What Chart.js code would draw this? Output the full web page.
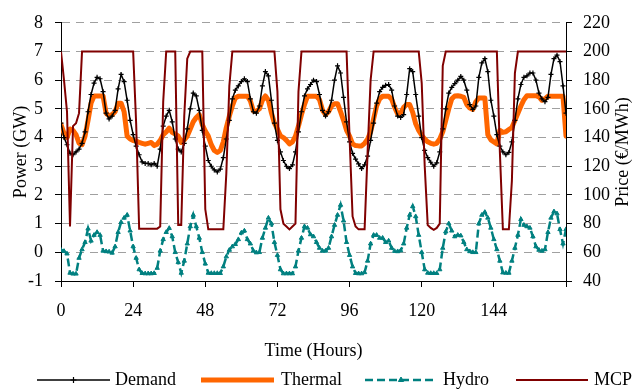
<!DOCTYPE html>
<html lang="en">
<head>
<meta charset="utf-8">
<title>Power and price</title>
<script src="https://cdn.jsdelivr.net/npm/chart.js@4.4.1/dist/chart.umd.min.js"></script>
<style>
  html, body { margin: 0; padding: 0; background: #fff; }
  #grafico { display: block; }
</style>
</head>
<body>
<canvas id="grafico" width="639" height="389"></canvas>
<script>
/**
 * Datos (una hora por punto)
 */
const horas = [
  0, 1, 2, 3, 4, 5, 6, 7, 8, 9, 10, 11, 12, 13, 14, 15, 16, 17, 18, 19, 20, 21, 22, 23,
  24, 25, 26, 27, 28, 29, 30, 31, 32, 33, 34, 35, 36, 37, 38, 39, 40, 41, 42, 43, 44, 45, 46, 47,
  48, 49, 50, 51, 52, 53, 54, 55, 56, 57, 58, 59, 60, 61, 62, 63, 64, 65, 66, 67, 68, 69, 70, 71,
  72, 73, 74, 75, 76, 77, 78, 79, 80, 81, 82, 83, 84, 85, 86, 87, 88, 89, 90, 91, 92, 93, 94, 95,
  96, 97, 98, 99, 100, 101, 102, 103, 104, 105, 106, 107, 108, 109, 110, 111, 112, 113, 114, 115, 116, 117, 118, 119,
  120, 121, 122, 123, 124, 125, 126, 127, 128, 129, 130, 131, 132, 133, 134, 135, 136, 137, 138, 139, 140, 141, 142, 143,
  144, 145, 146, 147, 148, 149, 150, 151, 152, 153, 154, 155, 156, 157, 158, 159, 160, 161, 162, 163, 164, 165, 166, 167, 168
];

// Demanda (GW)
const demanda = [
  4.5, 4.0, 3.75, 3.45, 3.4, 3.5, 3.6, 3.8, 4.2, 4.9, 5.5, 5.9, 6.1, 6.05, 5.6, 4.85, 4.65, 4.75, 4.95, 5.7, 6.2, 5.95, 5.3, 4.6,
  4.1, 3.7, 3.4, 3.15, 3.1, 3.1, 3.05, 3.1, 3.0, 3.6, 4.4, 4.75, 4.95, 4.55, 3.95, 3.6, 3.5, 3.8, 4.3, 5.0, 5.55, 5.45, 4.95, 4.25,
  3.7, 3.2, 3.0, 2.87, 2.8, 2.9, 3.3, 3.95, 4.6, 5.35, 5.65, 5.8, 5.95, 6.05, 5.95, 5.35, 4.9, 4.85, 5.1, 5.8, 6.3, 6.15, 5.3, 4.5,
  3.9, 3.5, 3.2, 3.0, 2.92, 3.05, 3.5, 4.2, 4.9, 5.45, 5.7, 5.85, 6.0, 5.95, 5.5, 4.95, 4.75, 4.9, 5.3, 6.0, 6.5, 6.25, 5.4, 4.55,
  3.85, 3.45, 3.25, 3.08, 2.92, 3.05, 3.35, 3.9, 4.5, 5.2, 5.6, 5.75, 5.82, 5.85, 5.65, 5.1, 4.75, 4.7, 4.8, 5.5, 6.4, 6.3, 5.5, 4.75,
  4.0, 3.55, 3.3, 3.14, 3.0, 3.12, 3.5, 4.3, 5.0, 5.55, 5.75, 5.88, 6.0, 6.13, 6.0, 5.65, 5.15, 4.98, 5.1, 6.1, 6.6, 6.75, 6.3, 5.3,
  4.75, 4.1, 3.7, 3.5, 3.4, 3.48, 3.85, 4.6, 5.35, 5.85, 6.1, 6.15, 6.25, 6.25, 6.0, 5.55, 5.35, 5.25, 5.4, 6.2, 6.75, 6.87, 6.65, 5.8, 4.85
];

// Generacion termica (GW)
const termica = [
  4.45, 4.15, 4.0, 4.3, 4.25, 4.1, 3.8, 3.75, 4.05, 4.6, 5.2, 5.45, 5.45, 5.45, 5.45, 4.85, 4.75, 4.8, 4.9, 5.2, 5.2, 4.9, 4.05, 3.95,
  3.9, 3.88, 3.83, 3.8, 3.77, 3.8, 3.83, 3.72, 3.77, 3.9, 4.1, 4.2, 4.33, 4.18, 4.12, 4.05, 3.83, 3.92, 4.05, 4.3, 4.55, 4.7, 4.8, 4.45,
  4.23, 4.05, 3.75, 3.55, 3.48, 3.55, 3.85, 4.35, 4.75, 5.1, 5.38, 5.44, 5.44, 5.44, 5.44, 5.28, 4.92, 4.92, 5.0, 5.3, 5.45, 5.3, 4.86, 4.5,
  4.29, 4.06, 4.0, 3.9, 3.78, 3.85, 4.05, 4.4, 4.8, 5.15, 5.44, 5.44, 5.44, 5.44, 5.32, 4.95, 4.8, 4.9, 5.1, 5.18, 5.18, 4.9, 4.6, 4.25,
  4.05, 3.78, 3.72, 3.71, 3.71, 3.8, 3.94, 4.2, 4.65, 5.1, 5.35, 5.44, 5.44, 5.44, 5.34, 5.05, 4.82, 4.85, 5.05, 5.15, 5.15, 4.88, 4.48, 4.25,
  4.08, 3.95, 3.85, 3.8, 3.77, 3.8, 3.95, 4.2, 4.6, 5.0, 5.35, 5.45, 5.46, 5.44, 5.4, 5.15, 5.03, 4.98, 5.25, 5.38, 5.38, 5.38, 4.1, 3.92,
  3.85, 3.78, 4.25, 4.18, 4.2, 4.28, 4.35, 4.6, 4.85, 5.1, 5.32, 5.46, 5.46, 5.46, 5.46, 5.42, 5.3, 5.35, 5.44, 5.44, 5.44, 5.44, 5.44, 5.44, 4.05
];

// Generacion hidraulica neta (GW)
const hidro = [
  0.08, 0.04, -0.05, -0.72, -0.75, -0.75, -0.2, 0.1, 0.35, 0.82, 0.4, 0.6, 0.7, 0.6, 0.05, 0.03, 0.02, -0.02, 0.2, 0.7, 1.05, 1.2, 1.3, 0.75,
  0.2, -0.2, -0.6, -0.73, -0.74, -0.74, -0.74, -0.73, -0.55, 0.05, 0.45, 0.7, 0.84, 0.55, 0.0, -0.35, -0.72, -0.3, 0.3, 0.9, 1.3, 0.9, 0.5, 0.0,
  -0.4, -0.72, -0.73, -0.73, -0.73, -0.73, -0.5, -0.15, 0.08, 0.2, 0.28, 0.45, 0.68, 0.75, 0.45, 0.3, 0.05, -0.01, 0.0, 0.5, 0.85, 1.2, 1.0, 0.35,
  -0.1, -0.6, -0.74, -0.74, -0.74, -0.74, -0.5, 0.05, 0.5, 0.9, 0.85, 0.62, 0.55, 0.35, 0.15, 0.05, 0.05, 0.15, 0.55, 0.95, 1.3, 1.65, 1.1, 0.35,
  -0.1, -0.5, -0.73, -0.74, -0.74, -0.7, -0.3, 0.3, 0.6, 0.6, 0.5, 0.5, 0.35, 0.4, 0.15, 0.04, 0.03, 0.06, 0.3, 0.85, 1.3, 1.6, 1.25, 0.6,
  0.0, -0.6, -0.72, -0.73, -0.73, -0.73, -0.6, 0.15, 0.72, 1.0, 0.75, 0.55, 0.6, 0.58, 0.35, 0.1, 0.03, 0.0, 0.0, 1.0, 1.3, 1.4, 1.2, 0.85,
  0.45, 0.1, -0.3, -0.71, -0.72, -0.72, -0.3, 0.15, 0.6, 1.15, 0.95, 0.9, 0.85, 0.55, 0.2, 0.08, 0.05, 0.1, 0.7, 1.2, 1.42, 1.35, 0.8, 0.3, 0.8
];

// Precio marginal (EUR/MWh), eje derecho
const mcp = [
  200, 180, 158, 78, 148, 150, 157, 200, 200, 200, 200, 200, 200, 200, 200, 200, 200, 200, 200, 200, 200, 200, 200, 200,
  200, 150, 76.5, 76.5, 76.5, 76.5, 76.5, 76.5, 76.5, 78, 165, 200, 200, 200, 200, 79, 79, 155, 195, 200, 200, 200, 200, 200,
  90, 76, 76, 76, 76, 76, 76, 115, 176, 200, 200, 200, 200, 200, 200, 200, 200, 200, 200, 200, 200, 200, 200, 200,
  172, 90, 80, 78, 76, 78, 80, 172, 200, 200, 200, 200, 200, 200, 200, 200, 200, 200, 200, 200, 200, 200, 200, 200,
  140, 85, 78, 76, 76, 76, 130, 180, 200, 200, 200, 200, 200, 200, 200, 200, 200, 200, 200, 200, 200, 200, 200, 200,
  178, 120, 79, 77, 75.7, 77, 80, 190, 200, 200, 200, 200, 200, 200, 200, 200, 200, 200, 200, 200, 200, 200, 200, 200,
  200, 200, 130, 76, 76, 76, 110, 185, 200, 200, 200, 200, 200, 200, 200, 200, 200, 200, 200, 200, 200, 200, 200, 200, 200
];

// Marcas de los ejes
const marcasHoras = [0, 24, 48, 72, 96, 120, 144];
const ticksPotencia = [-1, 0, 1, 2, 3, 4, 5, 6, 7, 8];
const ticksPrecio = [40, 60, 80, 100, 120, 140, 160, 180, 200, 220];

const FUENTE = '"Liberation Serif", "Times New Roman", serif';
Chart.defaults.font.family = FUENTE;
Chart.defaults.font.size = 18;
Chart.defaults.color = '#000';

/**
 * Titulo del eje derecho, girado como el del izquierdo
 */
const tituloPrecio = {
  id: 'tituloPrecio',
  afterDraw(chart) {
    const { ctx, chartArea } = chart;
    ctx.save();
    ctx.font = '18px ' + FUENTE;
    ctx.fillStyle = '#000';
    ctx.textAlign = 'center';
    ctx.textBaseline = 'middle';
    ctx.translate(chart.width - 16, (chartArea.top + chartArea.bottom) / 2);
    ctx.rotate(-Math.PI / 2);
    ctx.fillText('Price (€/MWh)', 0, 0);
    ctx.restore();
  }
};

/**
 * Leyenda inferior con muestra de linea y marcador
 */
const posLeyenda = [
  { x0: 37, x1: 110, texto: 115 },
  { x0: 201, x1: 274, texto: 281 },
  { x0: 365, x1: 437, texto: 443 },
  { x0: 516, x1: 588, texto: 594 }
];

const leyendaInferior = {
  id: 'leyendaInferior',
  afterDraw(chart) {
    const ctx = chart.ctx;
    const y = 380;
    chart.data.datasets.forEach((ds, i) => {
      const p = posLeyenda[i];
      ctx.save();
      ctx.strokeStyle = ds.borderColor;
      ctx.lineWidth = ds.borderWidth;
      ctx.setLineDash(ds.borderDash || []);
      ctx.beginPath();
      ctx.moveTo(p.x0, y);
      ctx.lineTo(p.x1, y);
      ctx.stroke();
      ctx.setLineDash([]);
      if (ds.pointRadius > 0) {
        ctx.fillStyle = ds.pointBackgroundColor || ds.borderColor;
        ctx.strokeStyle = ds.pointBorderColor || ds.borderColor;
        ctx.lineWidth = ds.pointBorderWidth || 1;
        Chart.helpers.drawPoint(ctx, {
          pointStyle: ds.pointStyle, radius: ds.pointRadius + 0.5,
          borderWidth: ds.pointBorderWidth || 1, rotation: 0
        }, (p.x0 + p.x1) / 2, y);
      }
      ctx.font = '18px ' + FUENTE;
      ctx.fillStyle = '#000';
      ctx.textAlign = 'left';
      ctx.textBaseline = 'middle';
      ctx.fillText(ds.label, p.texto, y);
      ctx.restore();
    });
  }
};

new Chart(document.getElementById('grafico'), {
  type: 'line',
  data: {
    labels: horas,
    datasets: [
      {
        label: 'Demand', data: demanda, yAxisID: 'yPotencia',
        borderColor: '#000', borderWidth: 1.5,
        pointStyle: 'cross', pointRadius: 2.5, pointBorderWidth: 1.2,
        pointBorderColor: '#000', pointBackgroundColor: '#000',
        order: 2
      },
      {
        label: 'Thermal', data: termica, yAxisID: 'yPotencia',
        borderColor: '#ff6600', borderWidth: 5, pointRadius: 0,
        borderJoinStyle: 'round', borderCapStyle: 'round',
        order: 3
      },
      {
        label: 'Hydro', data: hidro, yAxisID: 'yPotencia',
        borderColor: '#008080', borderWidth: 2.5, borderDash: [8, 4],
        pointStyle: 'triangle', pointRadius: 2.5, pointBorderWidth: 1,
        pointBackgroundColor: '#008080', pointBorderColor: '#008080',
        order: 4
      },
      {
        label: 'MCP', data: mcp, yAxisID: 'yPrecio',
        borderColor: '#800000', borderWidth: 2, pointRadius: 0,
        order: 1
      }
    ]
  },
  options: {
    responsive: false,
    animation: false,
    devicePixelRatio: 1,
    layout: { padding: { top: 21, left: 0, right: 0, bottom: 0 } },
    plugins: {
      legend: { display: false },
      tooltip: { enabled: false }
    },
    scales: {
      x: {
        type: 'linear',
        min: horas[0],
        max: horas[horas.length - 1],
        afterFit: (s) => { s.height = 108; },
        ticks: {
          stepSize: 24, autoSkip: false, maxRotation: 0, padding: 13,
          callback: (v) => marcasHoras.includes(v) ? String(v) : ''
        },
        grid: { drawOnChartArea: false, drawTicks: true, tickLength: 6, tickColor: '#000' },
        border: { display: true, color: '#000', width: 1 },
        title: { display: true, text: 'Time (Hours)', padding: { top: 0, bottom: 27 } }
      },
      yPotencia: {
        position: 'left',
        min: ticksPotencia[0],
        max: ticksPotencia[ticksPotencia.length - 1],
        afterFit: (s) => { s.width = 61; },
        ticks: { stepSize: 1, padding: 12 },
        grid: { color: '#a0a0a0', lineWidth: 1, tickColor: '#000', tickLength: 6 },
        border: { display: true, color: '#000', width: 1, dash: [8, 6] },
        title: { display: true, text: 'Power (GW)', padding: { top: 10, bottom: 0 } }
      },
      yPrecio: {
        position: 'right',
        min: ticksPrecio[0],
        max: ticksPrecio[ticksPrecio.length - 1],
        afterFit: (s) => { s.width = 73; },
        ticks: { stepSize: 20, padding: 11 },
        grid: { drawOnChartArea: false, tickColor: '#000', tickLength: 6 },
        border: { display: true, color: '#000', width: 1 }
      }
    }
  },
  plugins: [tituloPrecio, leyendaInferior]
});
</script>
</body>
</html>
